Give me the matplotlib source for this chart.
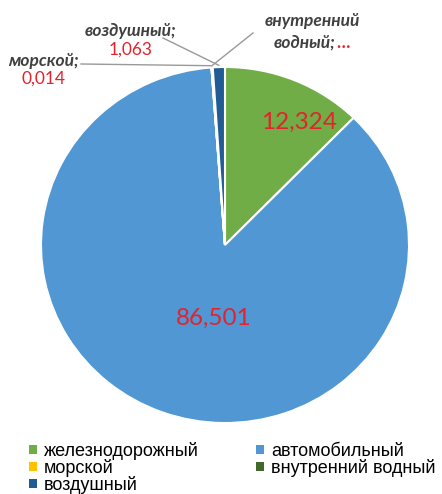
import matplotlib.pyplot as plt
from matplotlib.patches import Patch
import numpy as np

# data (share, %)
categories = ['железнодорожный', 'автомобильный', 'морской', 'внутренний водный', 'воздушный']
values = [12.324, 86.501, 0.014, 0.098, 1.063]
value_labels = ['12,324', '86,501', '0,014', '…', '1,063']
colors = ['#70AD47', '#5097D3', '#FFC000', '#43682B', '#215D94']

red = '#E3232C'
grey_txt = '#404040'
line_col = '#999999'

fig = plt.figure(figsize=(4.42, 4.94), dpi=100)
# axes box = pie bbox (pie is slightly stretched horizontally in the original)
ax = fig.add_axes([41 / 442, 1 - 423 / 494, 368 / 442, 356 / 494])

wedges, _ = ax.pie(values, colors=colors, startangle=90, counterclock=False,
                   radius=1.0, wedgeprops=dict(edgecolor='white', linewidth=1.5))
ax.set_xlim(-1, 1)
ax.set_ylim(-1, 1)
ax.set_aspect('auto')
ax.axis('off')

# inside labels
ax.text(0.40, 0.69, value_labels[0], color=red, fontsize=17.5, family='Lato',
        ha='center', va='center')
ax.text(-0.06, -0.41, value_labels[1], color=red, fontsize=17.5, family='Lato',
        ha='center', va='center')


def edge_point(w, r=1.01):
    a = np.deg2rad((w.theta1 + w.theta2) / 2)
    return r * np.cos(a), r * np.sin(a)


lbl_kw = dict(fontsize=12.5, family='Lato', style='italic', weight='bold', color=grey_txt)
num_kw = dict(fontsize=12.5, family='Lato', color=red)


# figure pixel coords -> fraction
def fx(px):
    return px / 442


def fy(py):
    return 1 - py / 494


# leader lines
for idx, start in [(2, (81, 64)), (4, (163, 38)), (3, (253, 33))]:
    ex, ey = edge_point(wedges[idx])
    p = ax.transData.transform((ex, ey))
    p = fig.transFigure.inverted().transform(p)
    fig.add_artist(plt.Line2D([fx(start[0]), p[0]], [fy(start[1]), p[1]],
                              color=line_col, lw=1.0))

# outside labels
fig.text(fx(44), fy(61), 'морской;', ha='center', va='center', **lbl_kw)
fig.text(fx(44), fy(79), value_labels[2], ha='center', va='center', **num_kw)
fig.text(fx(131), fy(31), 'воздушный;', ha='center', va='center', **lbl_kw)
fig.text(fx(131), fy(50), value_labels[4], ha='center', va='center', **num_kw)
fig.text(fx(312), fy(21), 'внутренний', ha='center', va='center', **lbl_kw)
fig.text(fx(336), fy(43), 'водный;', ha='right', va='center', **lbl_kw)
fig.text(fx(336), fy(43), value_labels[3], ha='left', va='center', color=red,
         fontsize=12.5, family='Lato', weight='bold')

# legend
order = [0, 2, 4, 1, 3]
handles = [Patch(facecolor=colors[i], edgecolor='none') for i in order]
fig.legend(handles, [categories[i] for i in order], ncol=2, frameon=False,
           loc='upper left', bbox_to_anchor=(fx(29), fy(442)),
           prop=dict(family='Liberation Sans', size=13.0),
           handlelength=0.42, handleheight=0.42, handletextpad=0.4,
           labelspacing=-0.06, columnspacing=3.2, borderpad=0, borderaxespad=0)

fig.savefig('out.png', dpi=100)
